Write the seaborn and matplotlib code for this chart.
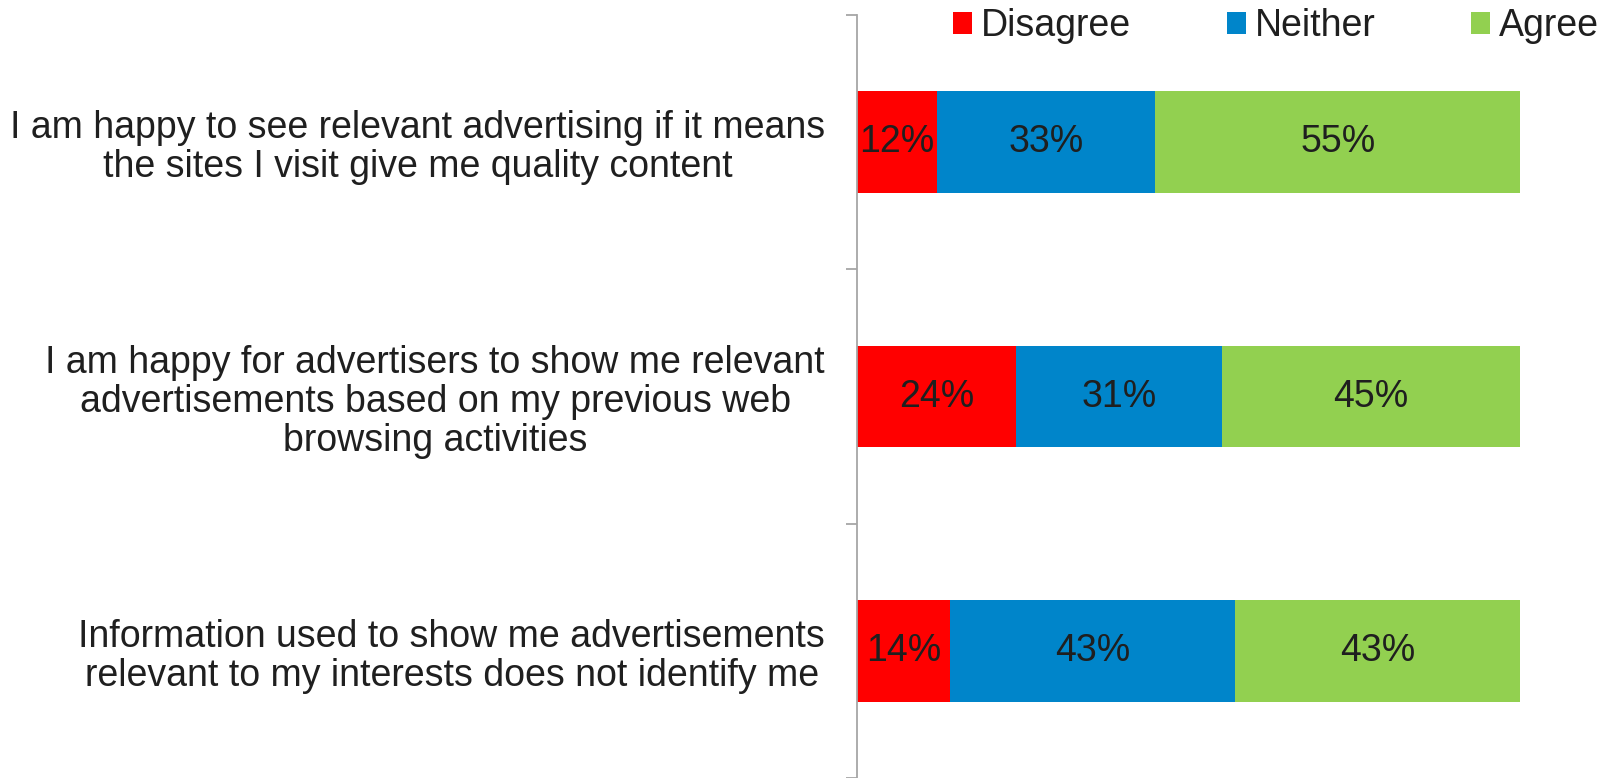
import matplotlib
matplotlib.use("Agg")
import matplotlib.pyplot as plt
from matplotlib.patches import Patch
import numpy as np
import pandas as pd
import seaborn as sns

# Survey statements and response shares (%)
statements = [
    "I am happy to see relevant advertising if it means\nthe sites I visit give me quality content",
    "I am happy for advertisers to show me relevant\nadvertisements based on my previous web\nbrowsing activities",
    "Information used to show me advertisements\nrelevant to my interests does not identify me",
]
responses = ["Disagree", "Neither", "Agree"]
disagree = [12, 24, 14]
neither = [33, 31, 43]
agree = [55, 45, 43]
colors = {"Disagree": "#FF0000", "Neither": "#0085CA", "Agree": "#92D050"}

sns.set_theme(style="white")
plt.rcParams["font.family"] = ["Liberation Sans", "DejaVu Sans"]
text_color = "#1f1f1f"
fs = 27

df = pd.DataFrame({
    "statement": statements,
    "Disagree": disagree,
    "Neither": neither,
    "Agree": agree,
})
values = df[responses].to_numpy(dtype=float)
cum = np.cumsum(values, axis=1)

fig = plt.figure(figsize=(16.07, 7.78), dpi=100)
ax = fig.add_axes([857 / 1607, 0.0, 663 / 1607, (778 - 15) / 778])

# Stacked bars: draw cumulative totals from the outermost segment inward
for j in reversed(range(len(responses))):
    sns.barplot(
        x=cum[:, j], y=df["statement"], orient="h", ax=ax,
        color=colors[responses[j]], width=0.4, saturation=1,
        edgecolor="none", linewidth=0,
    )

# Percentage labels centred in each segment
for i in range(len(statements)):
    for j in range(len(responses)):
        left = cum[i, j] - values[i, j]
        ax.text(left + values[i, j] / 2, i, f"{values[i, j]:.0f}%",
                ha="center", va="center", fontsize=fs, color=text_color)

ax.set_xlim(0, 100)
ax.set_ylim(2.5, -0.5)
ax.set_xlabel("")
ax.set_ylabel("")
ax.set_xticks([])

for side in ["top", "right", "bottom"]:
    ax.spines[side].set_visible(False)
ax.spines["left"].set_color("#a6a6a6")
ax.spines["left"].set_linewidth(1.3)

ax.set_yticks(range(len(statements)))
ax.set_yticks([-0.5, 0.5, 1.5, 2.5], minor=True)
ax.tick_params(axis="y", which="major", length=0, pad=23, labelsize=fs,
               labelcolor=text_color)
ax.tick_params(axis="y", which="minor", left=True, length=8, width=1.3,
               color="#a6a6a6")
for lbl in ax.get_yticklabels():
    lbl.set_multialignment("center")
    lbl.set_linespacing(1.1)

handles = [Patch(facecolor=colors[r], edgecolor="none", label=r) for r in responses]
fig.legend(
    handles=handles, loc="upper right", bbox_to_anchor=(1620 / 1607, 1.016),
    ncol=3, frameon=False, fontsize=fs, handlelength=0.5, handleheight=0.5,
    handletextpad=0.25, columnspacing=2.55, borderpad=0.05,
    labelcolor=text_color,
)

fig.savefig("out.png", dpi=100, facecolor="white")
